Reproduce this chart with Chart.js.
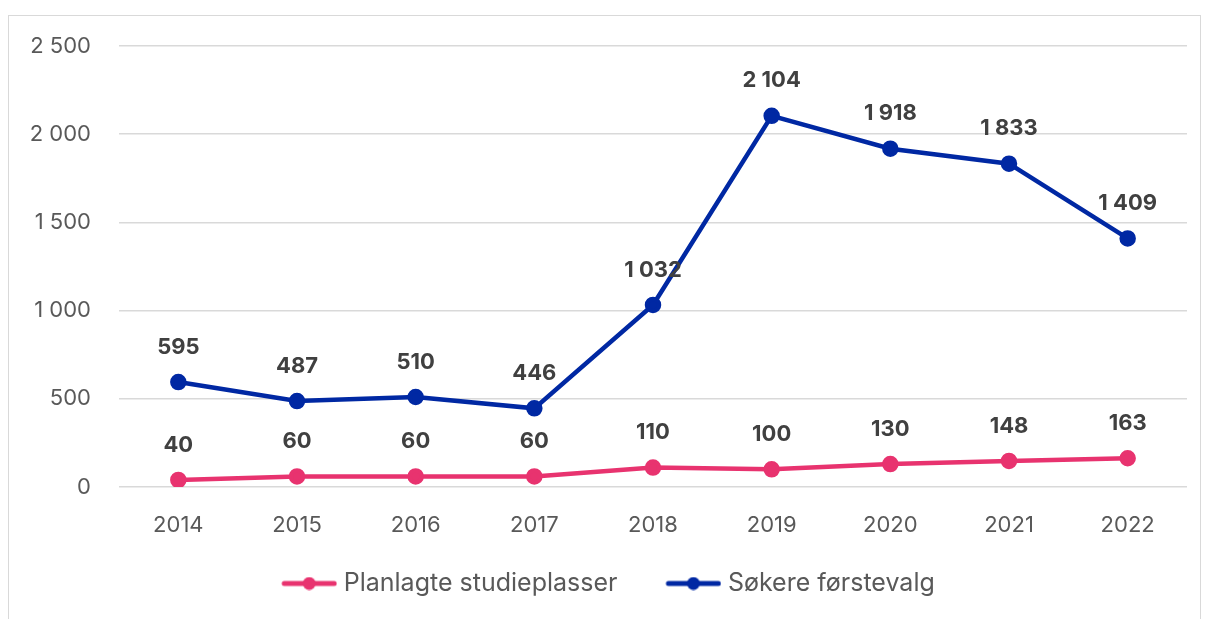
<!DOCTYPE html>
<html>
<head>
<meta charset="utf-8">
<script src="https://cdn.jsdelivr.net/npm/chart.js@4"></script>
<style>
  body { margin: 0; background: #fff; }
  #wrap { position: absolute; left: 8px; top: 15px; width: 1191px; height: 620px; border: 1px solid #d9d9d9; background: #fff; }
  canvas { display: block; }
</style>
</head>
<body>
<div id="wrap"><canvas id="chart" width="1191" height="620"></canvas></div>
<script>
const years = ['2014', '2015', '2016', '2017', '2018', '2019', '2020', '2021', '2022']
const studieplasser = [40, 60, 60, 60, 110, 100, 130, 148, 163]
const sokere = [595, 487, 510, 446, 1032, 2104, 1918, 1833, 1409]
const yTicks = [0, 500, 1000, 1500, 2000, 2500]

const pink = '#e8336f'
const blue = '#0028a3'
const fontFamily = 'Inter, "Noto Sans", sans-serif'

// norsk tusenskille
const fmt = v => {
    const s = String(v)
    return s.length > 3 ? s.slice(0, -3) + ' ' + s.slice(-3) : s
}

// legend marker: line with a dot, drawn at the right end of the image
const legendMarker = (color) => {
    const c = document.createElement('canvas')
    c.width = 82
    c.height = 14
    const ctx = c.getContext('2d')
    ctx.strokeStyle = color
    ctx.lineWidth = 5
    ctx.lineCap = 'round'
    ctx.beginPath()
    ctx.moveTo(29, 7)
    ctx.lineTo(79, 7)
    ctx.stroke()
    ctx.fillStyle = color
    ctx.beginPath()
    ctx.arc(54, 7, 6.5, 0, Math.PI * 2)
    ctx.fill()
    return c
}

const valueLabels = {
    id: 'valueLabels',
    afterDatasetsDraw(chart) {
        const ctx = chart.ctx
        ctx.save()
        ctx.font = 'bold 22px ' + fontFamily
        ctx.fillStyle = '#404040'
        ctx.textAlign = 'center'
        ctx.textBaseline = 'middle'
        chart.data.datasets.forEach((ds, i) => {
            chart.getDatasetMeta(i).data.forEach((pt, j) => {
                ctx.fillText(fmt(ds.data[j]), pt.x, pt.y - 35)
            })
        })
        ctx.restore()
    }
}

new Chart(document.getElementById('chart'), {
    type: 'line',
    data: {
        labels: years,
        datasets: [{
            label: 'Planlagte studieplasser',
            data: studieplasser,
            borderColor: pink,
            backgroundColor: pink,
            borderWidth: 4.5,
            pointRadius: 6,
            pointHoverRadius: 6,
            legendMarker: legendMarker(pink)
        }, {
            label: 'Søkere førstevalg',
            data: sokere,
            borderColor: blue,
            backgroundColor: blue,
            borderWidth: 4.5,
            pointRadius: 6,
            pointHoverRadius: 6,
            legendMarker: legendMarker(blue)
        }]
    },
    options: {
        responsive: false,
        animation: false,
        layout: { padding: { top: 30, right: 13, bottom: 30, left: 0 } },
        scales: {
            y: {
                min: 0,
                max: 2500,
                afterBuildTicks: (axis) => { axis.ticks = yTicks.map(v => ({ value: v })) },
                afterFit: (axis) => {
                    axis.width = 110
                    axis.paddingTop = 0
                    axis.paddingBottom = 0
                },
                border: { display: false },
                grid: { color: '#d9d9d9', lineWidth: 1.5, drawTicks: false },
                ticks: {
                    padding: 28,
                    color: '#595959',
                    font: { family: fontFamily, size: 22 },
                    callback: v => fmt(v)
                }
            },
            x: {
                offset: true,
                afterFit: (axis) => { axis.height = 56 },
                border: { display: false },
                grid: { display: false, drawTicks: false, offset: true },
                ticks: {
                    padding: 25,
                    color: '#595959',
                    font: { family: fontFamily, size: 22 }
                }
            }
        },
        plugins: {
            tooltip: { enabled: false },
            legend: {
                position: 'bottom',
                labels: {
                    usePointStyle: true,
                    pointStyleWidth: 70,
                    boxHeight: 14,
                    padding: 28,
                    color: '#595959',
                    font: { family: fontFamily, size: 25 },
                    generateLabels: (chart) => chart.data.datasets.map((ds, i) => ({
                        text: ds.label,
                        datasetIndex: i,
                        pointStyle: ds.legendMarker,
                        fontColor: '#595959',
                        hidden: false
                    }))
                }
            }
        }
    },
    plugins: [valueLabels]
})
</script>
</body>
</html>
